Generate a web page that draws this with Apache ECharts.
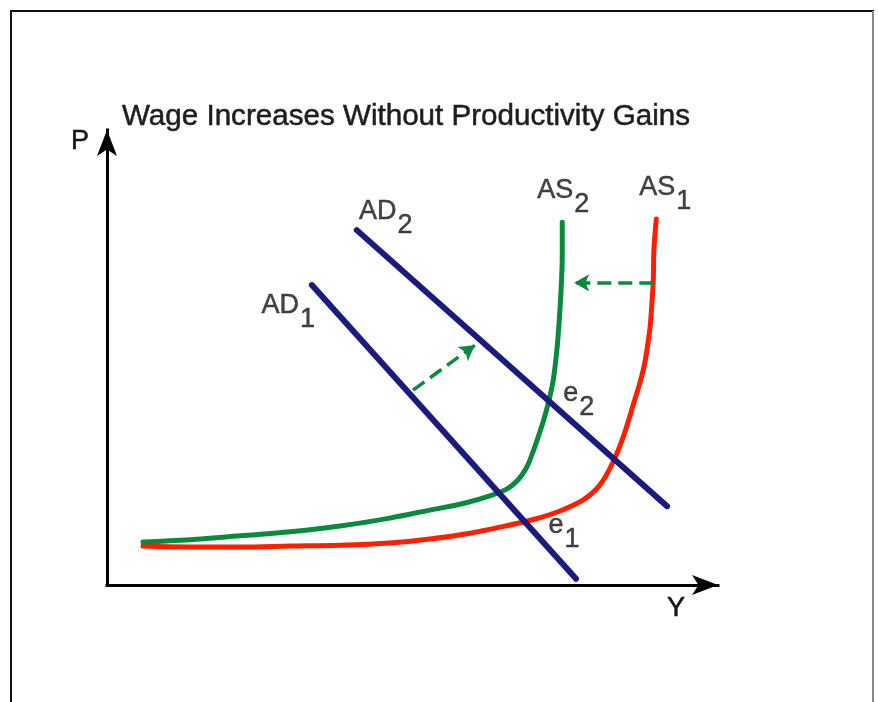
<!DOCTYPE html>
<html><head><meta charset="utf-8">
<script src="https://cdn.jsdelivr.net/npm/echarts@6/dist/echarts.min.js"></script>
<style>html,body{margin:0;padding:0;background:#fff}#c{width:878px;height:702px}</style>
</head><body><div id="c"></div>
<script>
// ---- data (arbitrary units: Y = real output, P = price level) ----
const titleText = 'Wage Increases Without Productivity Gains';
const xAxisName = 'Y';
const yAxisName = 'P';
const as1Points = [[6.0,8.8],[13.9,8.6],[22.2,8.6],[30.6,8.8],[38.9,9.0],[47.2,9.5],[53.9,10.4],[60.6,11.7],[66.4,13.3],[71.5,14.9],[75.6,16.7],[79.5,19.2],[82.3,22.6],[84.5,27.8],[86.3,33.9],[88.1,41.8],[89.1,46.3],[89.8,50.3],[90.3,54.6],[90.7,58.7],[91.0,64.3],[91.2,68.8],[91.3,75.6],[91.7,82.6]];
const as2Points = [[6.0,9.7],[13.9,10.2],[22.2,11.1],[30.6,12.0],[38.9,13.3],[47.2,15.1],[53.9,16.9],[59.8,18.5],[63.9,20.1],[66.8,21.7],[68.6,23.7],[70.0,26.4],[71.1,30.0],[72.1,33.9],[73.0,37.7],[73.8,41.8],[74.5,46.3],[75.1,53.0],[75.5,59.8],[75.8,66.6],[76.0,74.5],[76.0,81.9]];
const ad1Points = [[34.2,67.7],[78.3,1.4]];
const ad2Points = [[41.7,80.1],[93.5,17.8]];
const demandShift = [[51.1,44.0],[61.4,54.1]];
const supplyShift = [[91.2,68.2],[78.0,68.2]];
const e1Point = [70.1,13.8];
const e2Point = [74.1,41.1];
const labelNames = ['AD', 'AD', 'AS', 'AS', 'e', 'e'];
const labelSubs = ['1', '2', '2', '1', '2', '1'];

// ---- styles ----
const FONT = '"Liberation Sans", Arial, Helvetica, sans-serif';
const NAVY = '#1b1a7e', GREEN = '#0a8a3c', RED = '#ff1e00', INK = '#151515';
const anchors = [ad1Points[0], ad2Points[0], as2Points[as2Points.length-1], as1Points[as1Points.length-1], e2Point, e1Point];
const offsets = [[-23.5,27.5],[29,-11.5],[1,-25],[9,-24.5],[28,-2],[37,8.5]];
const textStroke = {textBorderColor: INK, textBorderWidth: 0.5};
const labelData = anchors.map((p, i) => ({
  value: p,
  label: {
    show: true, position: 'inside', offset: offsets[i],
    formatter: '{m|' + labelNames[i] + '}{s|' + labelSubs[i] + '}',
    rich: {
      m: Object.assign({fontSize: 27, fontFamily: FONT, color: INK, padding: [0,0,14,0]}, textStroke),
      s: Object.assign({fontSize: 27, fontFamily: FONT, color: INK, padding: [14,0,0,1]}, textStroke)
    }
  }
}));

const chart = echarts.init(document.getElementById('c'), null, {renderer: 'canvas'});
chart.setOption({
  animation: false,
  backgroundColor: '#fff',
  title: {text: titleText, left: 122, top: 102, padding: 0,
    textStyle: Object.assign({fontSize: 29.6, fontWeight: 'normal', color: '#1e1e1e', fontFamily: FONT}, textStroke)},
  grid: {left: 107, right: 160, top: 130, bottom: 117},
  xAxis: {type: 'value', min: 0, max: 102,
    name: xAxisName, nameLocation: 'end', nameGap: -51,
    nameTextStyle: Object.assign({fontSize: 27, fontFamily: FONT, color: INK, align: 'left', verticalAlign: 'top', padding: [10,0,0,0]}, textStroke),
    axisLine: {show: true, onZero: false, symbol: ['none','arrow'], symbolSize: [15,26], lineStyle: {color: '#000', width: 3, cap: 'square'}},
    axisTick: {show: false}, axisLabel: {show: false}, splitLine: {show: false}},
  yAxis: {type: 'value', min: 0, max: 102.7,
    name: yAxisName, nameLocation: 'end', nameGap: -12,
    nameTextStyle: Object.assign({fontSize: 27, fontFamily: FONT, color: INK, align: 'right', verticalAlign: 'middle', padding: [0,18,0,0]}, textStroke),
    axisLine: {show: true, onZero: false, symbol: ['none','arrow'], symbolSize: [15,26], lineStyle: {color: '#000', width: 3, cap: 'square'}},
    axisTick: {show: false}, axisLabel: {show: false}, splitLine: {show: false}},
  graphic: [
    {type: 'line', shape: {x1: 10, y1: 11, x2: 874, y2: 11}, style: {stroke: '#111', lineWidth: 2}, z: 10},
    {type: 'line', shape: {x1: 11, y1: 10, x2: 11, y2: 702}, style: {stroke: '#111', lineWidth: 2}, z: 10},
    {type: 'line', shape: {x1: 873, y1: 11, x2: 873, y2: 702}, style: {stroke: '#888', lineWidth: 2}, z: 10}
  ],
  series: [
    {name: 'AS1', type: 'line', data: as1Points, smooth: 0.35, showSymbol: false, silent: true,
      lineStyle: {color: RED, width: 5, cap: 'round'}, z: 3},
    {name: 'AS2', type: 'line', data: as2Points, smooth: 0.35, showSymbol: false, silent: true,
      lineStyle: {color: GREEN, width: 5, cap: 'round'}, z: 4,
      markLine: {silent: true, symbol: ['none','arrow'], symbolSize: [13,15], label: {show: false},
        lineStyle: {color: GREEN, width: 3.5, type: [14,7]},
        emphasis: {disabled: true},
        data: [
          [{coord: demandShift[0]}, {coord: demandShift[1]}],
          [{coord: supplyShift[0]}, {coord: supplyShift[1]}]
        ]}},
    {name: 'AD1', type: 'line', data: ad1Points, showSymbol: false, silent: true,
      lineStyle: {color: NAVY, width: 6, cap: 'round'}, z: 5},
    {name: 'AD2', type: 'line', data: ad2Points, showSymbol: false, silent: true,
      lineStyle: {color: NAVY, width: 6, cap: 'round'}, z: 5},
    {name: 'labels', type: 'scatter', data: labelData, symbol: 'circle', symbolSize: 2, silent: true,
      itemStyle: {color: 'rgba(0,0,0,0)'}, z: 8}
  ]
});
</script></body></html>
